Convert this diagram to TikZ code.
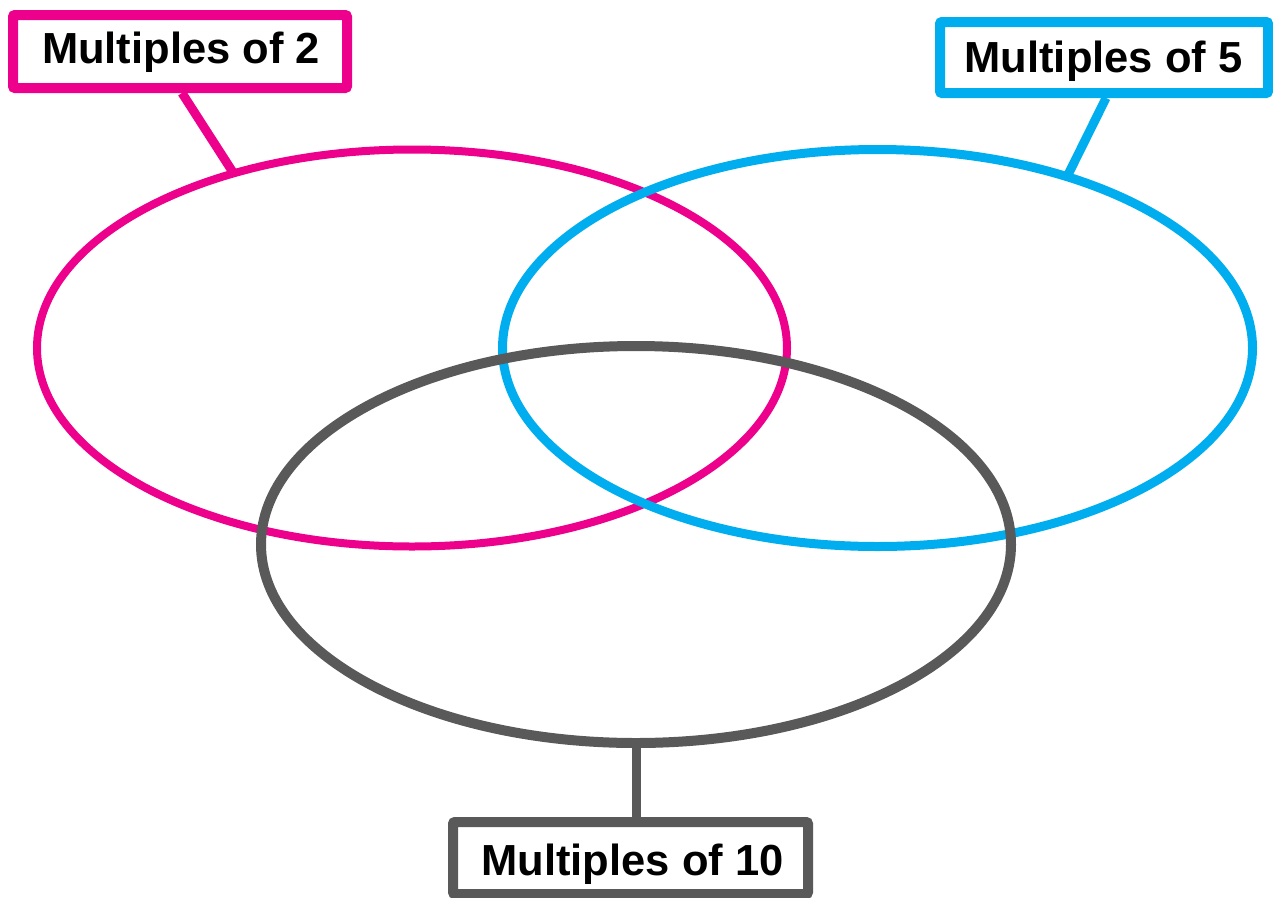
\documentclass[tikz,border=0pt]{standalone}
\usepackage{fontspec}
\setmainfont{Liberation Sans}
\usetikzlibrary{shapes.geometric,calc}
\definecolor{vpink}{HTML}{EC008C}
\definecolor{vblue}{HTML}{00AEEF}
\definecolor{vgray}{HTML}{595959}
\begin{document}
\begin{tikzpicture}[x=1pt,y=-1pt,
  setell/.style={draw, ellipse, inner sep=0pt, minimum width=750pt, minimum height=397pt},
  labbox/.style={line width=10pt, rounded corners=2pt, inner sep=0pt, fill=white},
  labtext/.style={anchor=base, font=\fontsize{43.5}{50}\selectfont\bfseries, inner sep=0pt},
  conn/.style={line width=9pt}]
\useasboundingbox (0,0) rectangle (1273,897);
% ellipses
\node[setell, vpink, line width=8pt] (e2) at (412,348) {};
\node[setell, vblue, line width=9pt] (e5) at (877.5,348) {};
\node[setell, vgray, line width=10pt] (e10) at (636,544.5) {};
% connector ends on ellipses
\coordinate (c2) at ($(e2.center)+(118.4:375pt and 198.5pt)$);
\coordinate (c5) at ($(e5.center)+(59.6:374.5pt and 198.5pt)$);
\coordinate (c10) at (e10.south);
% label boxes
\node[labbox, draw=vpink, minimum width=334pt, minimum height=73pt] (b2) at (180,51.5) {};
\node[labbox, draw=vblue, minimum width=328pt, minimum height=71pt] (b5) at (1104,57.5) {};
\node[labbox, draw=vgray, minimum width=355pt, minimum height=72pt] (b10) at (630.5,858) {};
% texts
\node[labtext] (t2) at (181,63) {Multiples of 2};
\node[labtext] (t5) at (1103.5,72) {Multiples of 5};
\node[labtext] (t10) at (632.5,875) {Multiples of 10};
% connectors
\draw[conn, vpink] (b2.south -| 182,0) -- (c2);
\draw[conn, vblue] (b5.south -| 1106,0) -- (c5);
\draw[conn, vgray] (b10.north -| c10) -- (c10);
\end{tikzpicture}
\end{document}
